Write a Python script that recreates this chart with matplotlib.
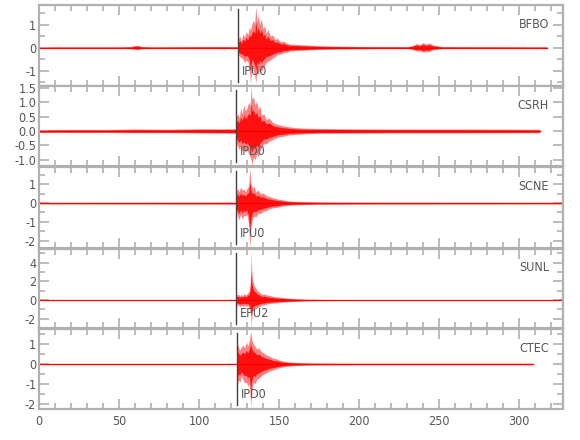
import matplotlib
matplotlib.use('Agg')
import matplotlib.pyplot as plt
from matplotlib.ticker import MultipleLocator, FormatStrFormatter, NullLocator
import numpy as np

# ---------------- data ----------------
stations = ['BFBO', 'CSRH', 'SCNE', 'SUNL', 'CTEC']
pick_labels = ['IPU0', 'IPD0', 'IPU0', 'EPU2', 'IPD0']
pick_times = [124.4, 123.3, 123.3, 123.3, 123.7]

# envelope of each trace: time (s), upper value, lower value
bfbo_t = [0, 50, 57, 60, 62, 64, 70, 100, 120, 124.3, 124.5, 125.5, 126.5, 127.5, 128.5, 129.5,
          130.5, 131.5, 132.2, 133, 134, 134.8, 135.5, 136.2, 137, 138, 139, 140, 141, 142, 143,
          144.5, 146, 147.5, 149, 151, 153, 155, 157, 165, 175, 190, 210, 230, 233, 236, 238,
          240, 242, 244, 246, 249, 252, 317.5]
bfbo_hi = [0.03, 0.03, 0.04, 0.09, 0.10, 0.05, 0.03, 0.04, 0.04, 0.04, 0.35, 0.50, 0.30, 0.60, 0.45, 0.70,
           0.55, 0.90, 0.75, 1.00, 1.20, 1.00, 1.80, 1.10, 1.40, 1.00, 1.25, 0.80, 0.95, 0.60, 0.80,
           0.50, 0.55, 0.35, 0.40, 0.25, 0.28, 0.18, 0.15, 0.12, 0.08, 0.06, 0.04, 0.04, 0.08, 0.18, 0.12,
           0.22, 0.15, 0.20, 0.12, 0.08, 0.04, 0.03]
bfbo_lo = [-0.03, -0.03, -0.04, -0.08, -0.09, -0.05, -0.03, -0.04, -0.04, -0.04, -0.30, -0.40, -0.45, -0.50, -0.65, -0.55,
           -0.60, -0.90, -1.60, -0.80, -1.00, -1.20, -1.55, -1.00, -1.20, -0.90, -1.05, -0.90, -0.75, -0.65, -0.60,
           -0.55, -0.45, -0.40, -0.30, -0.28, -0.22, -0.20, -0.15, -0.12, -0.08, -0.06, -0.04, -0.04, -0.08, -0.15, -0.14,
           -0.20, -0.18, -0.17, -0.10, -0.07, -0.04, -0.03]

csrh_t = [0, 40, 60, 80, 100, 115, 123.2, 123.4, 124.3, 125.2, 126, 127, 128, 129, 130, 131, 132,
          132.6, 133.1, 134, 135, 136, 137, 138, 139, 140.5, 142, 144, 146, 148, 150, 153, 156, 160,
          166, 175, 190, 220, 260, 313]
csrh_hi = [0.05, 0.05, 0.07, 0.06, 0.08, 0.08, 0.08, 0.50, 0.60, 0.45, 0.80, 0.60, 0.90, 0.70, 0.80, 1.00, 0.90,
           1.57, 1.10, 1.20, 0.90, 1.05, 0.75, 0.90, 0.55, 0.60, 0.40, 0.45, 0.30, 0.25, 0.22, 0.18, 0.15, 0.12,
           0.10, 0.09, 0.08, 0.07, 0.07, 0.06]
csrh_lo = [-0.05, -0.05, -0.06, -0.06, -0.07, -0.08, -0.08, -0.40, -0.55, -0.65, -0.50, -0.70, -0.60, -0.75, -0.65, -0.80, -0.90,
           -1.00, -1.20, -0.90, -1.00, -0.80, -0.90, -0.70, -0.60, -0.45, -0.45, -0.35, -0.30, -0.25, -0.20, -0.18, -0.14, -0.12,
           -0.10, -0.08, -0.08, -0.07, -0.07, -0.06]

scne_t = [0, 123.2, 123.4, 124.2, 125, 126, 127, 128, 129, 130, 131, 131.8, 132.5, 133.5, 134.5,
          135.5, 137, 138.5, 140, 142, 144, 146.5, 149, 152, 155, 159, 165, 175, 200, 327.5]
scne_hi = [0.04, 0.05, 0.60, 0.80, 0.60, 0.85, 0.70, 0.75, 0.60, 0.80, 0.90, 1.85, 1.00, 0.80, 0.90,
           0.60, 0.70, 0.50, 0.55, 0.40, 0.35, 0.28, 0.22, 0.18, 0.13, 0.10, 0.08, 0.06, 0.05, 0.04]
scne_lo = [-0.04, -0.05, -0.50, -0.70, -0.90, -0.60, -0.85, -0.65, -0.70, -0.60, -1.10, -2.40, -1.20, -0.80, -0.70,
           -0.75, -0.55, -0.55, -0.45, -0.40, -0.30, -0.25, -0.22, -0.15, -0.13, -0.10, -0.08, -0.06, -0.05, -0.04]

sunl_t = [0, 123.2, 123.4, 124.5, 125.5, 126.5, 127.5, 128.5, 129.5, 130.5, 131.5, 132.3, 132.6, 133,
          133.6, 134.5, 135.5, 136.5, 138, 139.5, 141, 143, 145, 148, 151, 155, 160, 166, 175, 190, 327.5]
sunl_hi = [0.05, 0.05, 0.50, 0.65, 0.45, 0.60, 0.50, 0.70, 0.55, 0.80, 1.00, 2.50, 5.20, 3.00,
           2.00, 1.50, 1.30, 1.00, 0.80, 0.60, 0.65, 0.50, 0.45, 0.35, 0.30, 0.22, 0.15, 0.10, 0.07, 0.05, 0.05]
sunl_lo = [-0.05, -0.05, -0.60, -0.50, -0.75, -0.55, -0.70, -0.50, -0.70, -0.60, -0.90, -1.50, -2.90, -1.80,
           -1.20, -1.00, -0.90, -0.80, -0.65, -0.55, -0.50, -0.40, -0.35, -0.30, -0.25, -0.20, -0.15, -0.10, -0.07, -0.05, -0.05]

ctec_t = [0, 123.5, 123.7, 124.5, 125.5, 126.5, 127.5, 128.5, 129.5, 130.5, 131.5, 132.3, 133, 134,
          135, 136, 137.5, 139, 140.5, 142, 144, 146, 148.5, 151, 154, 157, 162, 170, 200, 309]
ctec_hi = [0.03, 0.03, 1.10, 0.90, 0.70, 0.85, 0.95, 0.80, 1.10, 0.90, 1.20, 1.65, 1.20, 1.00,
           0.90, 0.75, 0.80, 0.60, 0.55, 0.45, 0.40, 0.30, 0.25, 0.18, 0.13, 0.10, 0.07, 0.05, 0.04, 0.04]
ctec_lo = [-0.03, -0.03, -1.30, -0.80, -0.90, -0.60, -0.80, -0.95, -0.90, -1.10, -1.00, -2.15, -1.30, -0.90,
           -1.00, -0.80, -0.70, -0.60, -0.50, -0.45, -0.35, -0.30, -0.22, -0.17, -0.12, -0.10, -0.07, -0.05, -0.04, -0.04]

traces = [(bfbo_t, bfbo_hi, bfbo_lo), (csrh_t, csrh_hi, csrh_lo), (scne_t, scne_hi, scne_lo),
          (sunl_t, sunl_hi, sunl_lo), (ctec_t, ctec_hi, ctec_lo)]

y_limits = [(-1.67, 1.85), (-1.22, 1.57), (-2.4, 1.93), (-3.0, 5.47), (-2.25, 1.75)]
y_major = [1, 0.5, 1, 2, 1]
y_minor = [0.5, None, 0.5, 1, 0.5]
y_fmt = ['%d', '%.1f', '%d', '%d', '%d']
x_limits = (0, 327.5)

# ---------------- layout ----------------
W, H = 580, 440
fig = plt.figure(figsize=(W / 100, H / 100), dpi=100)
fam = ['Liberation Sans Narrow', 'DejaVu Sans']
plt.rcParams['font.family'] = fam
plt.rcParams['font.stretch'] = 'condensed'

panel_px = [(5, 86), (86, 166), (167, 248), (249, 328), (329, 409)]
left_px, right_px = 39, 563
frame_col = '#b0b0b0'
text_col = '#555555'

for i, (top, bot) in enumerate(panel_px):
    ax = fig.add_axes([left_px / W, 1 - bot / H, (right_px - left_px) / W, (bot - top) / H])
    t, hi, lo = (np.array(a, dtype=float) for a in traces[i])
    ax.fill_between(t, lo, hi, color='#ff8080', lw=0)
    ax.fill_between(t, 0.62 * lo, 0.62 * hi, color='#ff1010', lw=0)
    ax.plot(t, np.zeros_like(t), color='#ff0000', lw=0.9)

    ax.set_xlim(*x_limits)
    ax.set_ylim(*y_limits[i])

    ax.axvline(pick_times[i], ymin=0.05, ymax=0.95, color='#404040', lw=1.0)
    ax.text(pick_times[i] + 2.3, 0.18, pick_labels[i], transform=ax.get_xaxis_transform(),
            ha='left', va='center', fontsize=9, color=text_col)
    ax.text(0.973, 0.76, stations[i], transform=ax.transAxes, ha='right', va='center',
            fontsize=9, color=text_col)

    for s in ax.spines.values():
        s.set_color(frame_col)
        s.set_linewidth(1.6)

    ax.xaxis.set_major_locator(MultipleLocator(50))
    ax.xaxis.set_minor_locator(MultipleLocator(10))
    ax.yaxis.set_major_locator(MultipleLocator(y_major[i]))
    if y_minor[i]:
        ax.yaxis.set_minor_locator(MultipleLocator(y_minor[i]))
    else:
        ax.yaxis.set_minor_locator(NullLocator())
    ax.yaxis.set_major_formatter(FormatStrFormatter(y_fmt[i]))

    ax.tick_params(which='both', direction='in', top=True, bottom=True, left=True, right=True,
                   color=frame_col, width=1.2, labelcolor=text_col, labelsize=9)
    ax.tick_params(which='major', length=7, pad=2)
    ax.tick_params(which='minor', length=4)
    if i < len(panel_px) - 1:
        ax.tick_params(axis='x', labelbottom=False)
    else:
        ax.tick_params(axis='x', pad=4)

fig.savefig('out.png', dpi=100)
